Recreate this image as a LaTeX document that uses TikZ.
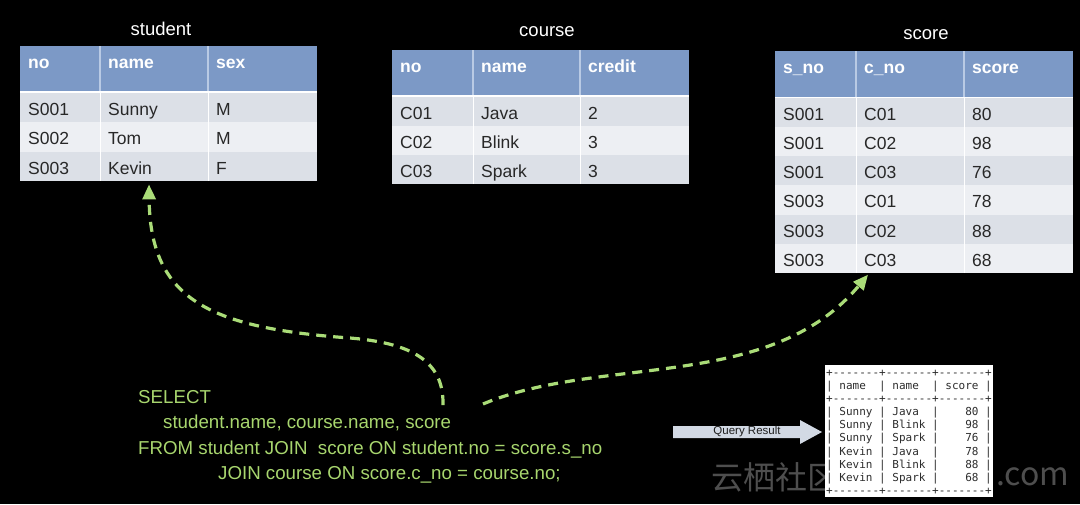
\documentclass[tikz,border=0pt]{standalone}
\usepackage{fontspec}
\setmainfont{Liberation Sans}
\setmonofont{DejaVu Sans Mono}
\newfontfamily\cjkfont{Noto Sans CJK SC}
\usetikzlibrary{arrows.meta,calc}
\definecolor{hdrblue}{RGB}{124,153,198}
\definecolor{hdrline}{RGB}{185,202,228}
\definecolor{rowA}{RGB}{220,224,231}
\definecolor{rowB}{RGB}{237,239,243}
\definecolor{celltext}{RGB}{40,40,40}
\definecolor{sqlgreen}{RGB}{168,214,110}
\definecolor{arrowgreen}{RGB}{170,220,120}
\definecolor{qafill}{RGB}{210,217,228}
\definecolor{qatext}{RGB}{30,30,30}
\definecolor{restext}{RGB}{45,45,45}
\definecolor{wmgray}{RGB}{78,78,78}
\begin{document}
\begin{tikzpicture}[x=1pt,y=-1pt,
  title/.style={text=white,font=\fontsize{18.5}{20}\selectfont,anchor=base,inner sep=0},
  hd/.style={text=white,font=\fontsize{17.5}{19}\selectfont\bfseries,anchor=base west,inner sep=0},
  cell/.style={text=celltext,font=\fontsize{17.5}{19}\selectfont,anchor=base west,inner sep=0},
  tbl/.style={anchor=north west,inner sep=0,draw=none},
  hsep/.style={draw=hdrline,line width=1.2},
  bsep/.style={draw=white,line width=1},
  sql/.style={text=sqlgreen,font=\fontsize{18.7}{20}\selectfont,anchor=base west,inner sep=0},
  flow/.style={draw=arrowgreen,line width=3.2,dash pattern=on 10pt off 7pt,-{Triangle[length=15pt,width=13pt]}},
  res/.style={text=restext,font=\ttfamily\fontsize{11}{12}\selectfont,anchor=west,inner sep=0},
  wm/.style={font=\cjkfont\fontsize{32}{34}\selectfont,text=wmgray,anchor=west,inner sep=0},
]
\fill[black] (0,0) rectangle (1080,504);
\useasboundingbox (0,0) rectangle (1080,504);

% ---------- student ----------
\node[tbl,minimum width=297,minimum height=135] (student) at (20,46) {};
\fill[hdrblue] (20,46) rectangle (317,91);
\fill[white] (20,91) rectangle (317,92.5);
\foreach \i/\c in {1/rowA,2/rowB,3/rowA}
  \fill[\c] (20,{92.5+(\i-1)*29.5}) rectangle (317,{92.5+\i*29.5});
\foreach \x in {100,208} {\draw[hsep] (\x,46) -- (\x,91); \draw[bsep] (\x,92.5) -- (\x,181);}
\node[title] (t-student) at (161,35) {student};
\node[hd] (st-h1) at (28,68) {no};
\node[hd] (st-h2) at (108,68) {name};
\node[hd] (st-h3) at (216,68) {sex};
\foreach \a/\b/\c [count=\i] in {S001/Sunny/M,S002/Tom/M,S003/Kevin/F} {
  \pgfmathsetmacro\yb{92.5+(\i-1)*29.5+22.5}
  \node[cell] (st-\i-1) at (28,\yb) {\a};
  \node[cell] (st-\i-2) at (108,\yb) {\b};
  \node[cell] (st-\i-3) at (216,\yb) {\c};
}

% ---------- course ----------
\node[tbl,minimum width=297,minimum height=134.4] (course) at (392,50) {};
\fill[hdrblue] (392,50) rectangle (689,95);
\fill[white] (392,95) rectangle (689,96.5);
\foreach \i/\c in {1/rowA,2/rowB,3/rowA}
  \fill[\c] (392,{96.5+(\i-1)*29.3}) rectangle (689,{96.5+\i*29.3});
\foreach \x in {473,580} {\draw[hsep] (\x,50) -- (\x,95); \draw[bsep] (\x,96.5) -- (\x,184.4);}
\node[title] (t-course) at (547,36) {course};
\node[hd] (co-h1) at (400,72) {no};
\node[hd] (co-h2) at (481,72) {name};
\node[hd] (co-h3) at (588,72) {credit};
\foreach \a/\b/\c [count=\i] in {C01/Java/2,C02/Blink/3,C03/Spark/3} {
  \pgfmathsetmacro\yb{96.5+(\i-1)*29.3+22.5}
  \node[cell] (co-\i-1) at (400,\yb) {\a};
  \node[cell] (co-\i-2) at (481,\yb) {\b};
  \node[cell] (co-\i-3) at (588,\yb) {\c};
}

% ---------- score ----------
\node[tbl,minimum width=298,minimum height=222.3] (score) at (775,51) {};
\fill[hdrblue] (775,51) rectangle (1073,96.5);
\fill[white] (775,96.5) rectangle (1073,97.5);
\foreach \i/\c in {1/rowA,2/rowB,3/rowA,4/rowB,5/rowA,6/rowB}
  \fill[\c] (775,{97.5+(\i-1)*29.3}) rectangle (1073,{97.5+\i*29.3});
\foreach \x in {856,964} {\draw[hsep] (\x,51) -- (\x,96.5); \draw[bsep] (\x,97.5) -- (\x,273.3);}
\node[title] (t-score) at (926,39) {score};
\node[hd] (sc-h1) at (783,73) {s\_no};
\node[hd] (sc-h2) at (864,73) {c\_no};
\node[hd] (sc-h3) at (972,73) {score};
\foreach \a/\b/\c [count=\i] in {S001/C01/80,S001/C02/98,S001/C03/76,S003/C01/78,S003/C02/88,S003/C03/68} {
  \pgfmathsetmacro\yb{97.5+(\i-1)*29.3+22.5}
  \node[cell] (sc-\i-1) at (783,\yb) {\a};
  \node[cell] (sc-\i-2) at (864,\yb) {\b};
  \node[cell] (sc-\i-3) at (972,\yb) {\c};
}

% ---------- SQL ----------
\node[sql] (sql1) at (138,403) {SELECT};
\node[sql] (sql2) at (163,428) {student.name, course.name, score};
\node[sql] (sql3) at (138,454) {FROM student JOIN\ \ score ON student.no = score.s\_no};
\node[sql] (sql4) at (218,479) {JOIN course ON score.c\_no = course.no;};

% ---------- arrows ----------
\coordinate (a1s) at (443,405);
\coordinate (a2s) at (483,404);
\draw[flow] (a1s) .. controls (444,360) and (410,343) .. (350,338)
  .. controls (210,328) and (150,300) .. ($(student.south west)+(129,3)$);
\draw[flow] (a2s) .. controls (600,355) and (770,392) .. ($(score.south west)+(93,1)$);

% ---------- watermark (behind the result table) ----------
\node[wm] (wm1) at (711,477) {云栖社区};
\node[wm] (wm2) at (996,477) {.com};

% ---------- query result ----------
\fill[qafill] (673,426) -- (800,426) -- (800,420) -- (822,432) -- (800,444) -- (800,438) -- (673,438) -- cycle;
\node[font=\fontsize{11.5}{12}\selectfont,text=qatext,inner sep=0] (qr) at (747,432) {Query Result};

\node[tbl,fill=white,minimum width=168,minimum height=132] (result) at (825,365) {};
\node[res] (r0) at (826,373.0) {+-------+-------+-------+};
\node[res] (r1) at (826,386.2) {|~name~~|~name~~|~score~|};
\node[res] (r2) at (826,399.4) {+-------+-------+-------+};
\node[res] (r3) at (826,412.6) {|~Sunny~|~Java~~|~~~~80~|};
\node[res] (r4) at (826,425.8) {|~Sunny~|~Blink~|~~~~98~|};
\node[res] (r5) at (826,439.0) {|~Sunny~|~Spark~|~~~~76~|};
\node[res] (r6) at (826,452.2) {|~Kevin~|~Java~~|~~~~78~|};
\node[res] (r7) at (826,465.4) {|~Kevin~|~Blink~|~~~~88~|};
\node[res] (r8) at (826,478.6) {|~Kevin~|~Spark~|~~~~68~|};
\node[res] (r9) at (826,491.8) {+-------+-------+-------+};
\end{tikzpicture}
\end{document}
